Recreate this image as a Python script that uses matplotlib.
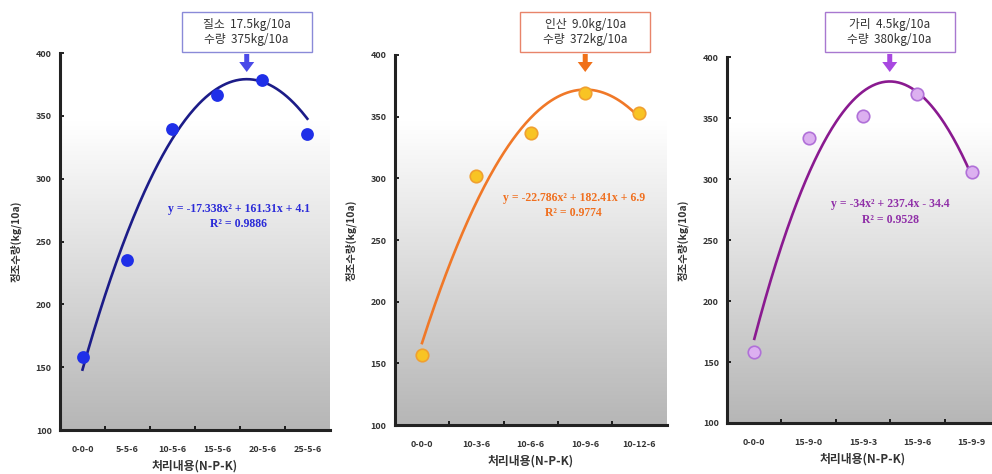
import numpy as np
import matplotlib
matplotlib.use('Agg')
import matplotlib.pyplot as plt
from matplotlib.colors import LinearSegmentedColormap
from matplotlib.patches import Rectangle, FancyArrow

plt.rcParams['font.family'] = ['Noto Sans CJK KR', 'DejaVu Sans']
plt.rcParams['axes.unicode_minus'] = False

# --- 데이터 ---
n_labels = ['0-0-0', '5-5-6', '10-5-6', '15-5-6', '20-5-6', '25-5-6']
n_yield = [158, 235, 340, 367, 379, 336]
n_coef = [-17.338, 161.31, 4.1]
n_eq = ['y = -17.338x² + 161.31x + 4.1', 'R² = 0.9886']
n_box = ['질소  17.5kg/10a', '수량  375kg/10a']

p_labels = ['0-0-0', '10-3-6', '10-6-6', '10-9-6', '10-12-6']
p_yield = [157, 302, 337, 369, 353]
p_coef = [-22.786, 182.41, 6.9]
p_eq = ['y = -22.786x² + 182.41x + 6.9', 'R² = 0.9774']
p_box = ['인산  9.0kg/10a', '수량  372kg/10a']

k_labels = ['0-0-0', '15-9-0', '15-9-3', '15-9-6', '15-9-9']
k_yield = [158, 334, 352, 370, 306]
k_coef = [-34.0, 237.4, -34.4]
k_eq = ['y = -34x² + 237.4x - 34.4', 'R² = 0.9528']
k_box = ['가리  4.5kg/10a', '수량  380kg/10a']

y_ticks = [100, 150, 200, 250, 300, 350, 400]

W, H = 992, 474

panels = [
    dict(labels=n_labels, vals=n_yield, coef=n_coef, eq=n_eq, box=n_box,
         rect=[0.0605, 0.0928, 0.272, 0.795],
         line='#1c1c88', mfc='#1f2fe8', mec='#1f2fe8', ms=8,
         txt='#2b2bd8', edge='#8a8ad8', arrow='#4a4ae8',
         eq_pos=(4.48, 270)),
    dict(labels=p_labels, vals=p_yield, coef=p_coef, eq=p_eq, box=p_box,
         rect=[0.398, 0.103, 0.274, 0.781],
         line='#f07828', mfc='#f8c424', mec='#f0a030', ms=9,
         txt='#f07020', edge='#e8846a', arrow='#f07018',
         eq_pos=(3.79, 278)),
    dict(labels=k_labels, vals=k_yield, coef=k_coef, eq=k_eq, box=k_box,
         rect=[0.733, 0.1076, 0.274, 0.772],
         line='#8a1a90', mfc='#dcb0f0', mec='#b070d8', ms=9,
         txt='#9030a8', edge='#a878d0', arrow='#a848e0',
         eq_pos=(3.51, 273)),
]

bg_cmap = LinearSegmentedColormap.from_list('bg', ['#ffffff', '#b6b6b6'])

fig = plt.figure(figsize=(W / 100, H / 100), dpi=100)

for pn in panels:
    ax = fig.add_axes(pn['rect'])
    n = len(pn['labels'])
    x = np.arange(1, n + 1)

    # 배경 그라데이션
    t = np.linspace(0, 1, 300)
    grad = np.clip((t - 0.18) / 0.82, 0, 1).reshape(-1, 1)
    ax.imshow(grad, extent=(0.5, n + 0.5, 100, 400), aspect='auto',
              cmap=bg_cmap, vmin=0, vmax=1, zorder=0, origin='upper')

    # 추세선 (엑셀 2차 추세선 식)
    xs = np.linspace(1, n, 200)
    ax.plot(xs, np.polyval(pn['coef'], xs), color=pn['line'], lw=1.9, zorder=2)
    ax.plot(x, pn['vals'], 'o', ms=pn['ms'], mfc=pn['mfc'], mec=pn['mec'],
            mew=1.2, zorder=3)

    ax.set_xlim(0.5, n + 0.5)
    ax.set_ylim(100, 400)
    for s in ['top', 'right']:
        ax.spines[s].set_visible(False)
    for s in ['left', 'bottom']:
        ax.spines[s].set_linewidth(2.2)
        ax.spines[s].set_color('#222222')

    ax.set_yticks(y_ticks)
    ax.set_yticklabels([str(v) for v in y_ticks], fontsize=6.5,
                       fontweight='bold', color='#333333')
    ax.tick_params(axis='y', direction='in', length=3, width=1.2, pad=6)

    ax.set_xticks(np.arange(1.5, n, 1.0))
    ax.set_xticklabels([])
    ax.set_xticks(x, minor=True)
    ax.set_xticklabels(pn['labels'], minor=True, fontsize=6.5,
                       fontweight='bold', color='#333333')
    ax.tick_params(axis='x', which='major', direction='in', length=3, width=1.2)
    ax.tick_params(axis='x', which='minor', length=0, pad=11)

    ax.set_xlabel('처리내용(N-P-K)', fontsize=8.5, fontweight='bold',
                  color='#333333', labelpad=4)
    ax.set_ylabel('정조수량(kg/10a)', fontsize=7.5, fontweight='bold',
                  color='#333333', labelpad=10)

    # 회귀식
    ax.text(pn['eq_pos'][0], pn['eq_pos'][1], pn['eq'][0] + '\n' + pn['eq'][1],
            ha='center', va='center', fontsize=8.5, color=pn['txt'],
            family=['Liberation Serif', 'DejaVu Serif'], fontweight='bold',
            linespacing=1.4, zorder=4)

    # 최적 시비량 표시 (상자 + 화살표)
    a, b, c = pn['coef']
    x_opt = -b / (2 * a)
    px = ax.transData.transform((x_opt, 250))[0]
    bw, bh = 130, 40
    box_top = H - 12
    fig.add_artist(Rectangle(((px - bw / 2) / W, (box_top - bh) / H), bw / W, bh / H,
                             transform=fig.transFigure, fc='white',
                             ec=pn['edge'], lw=1.0))
    fig.text(px / W, (box_top - bh / 2) / H, pn['box'][0] + '\n' + pn['box'][1],
             ha='center', va='center', fontsize=8.5, color='#333333',
             linespacing=1.2)
    # 세로 화살표라 폭은 x, 길이는 y 단위
    fig.add_artist(FancyArrow(px / W, (H - 54) / H, 0, -18 / H,
                              width=5 / W, head_width=15 / W, head_length=10 / H,
                              length_includes_head=True, transform=fig.transFigure,
                              color=pn['arrow'], lw=0))

fig.savefig('out.png', dpi=100)
